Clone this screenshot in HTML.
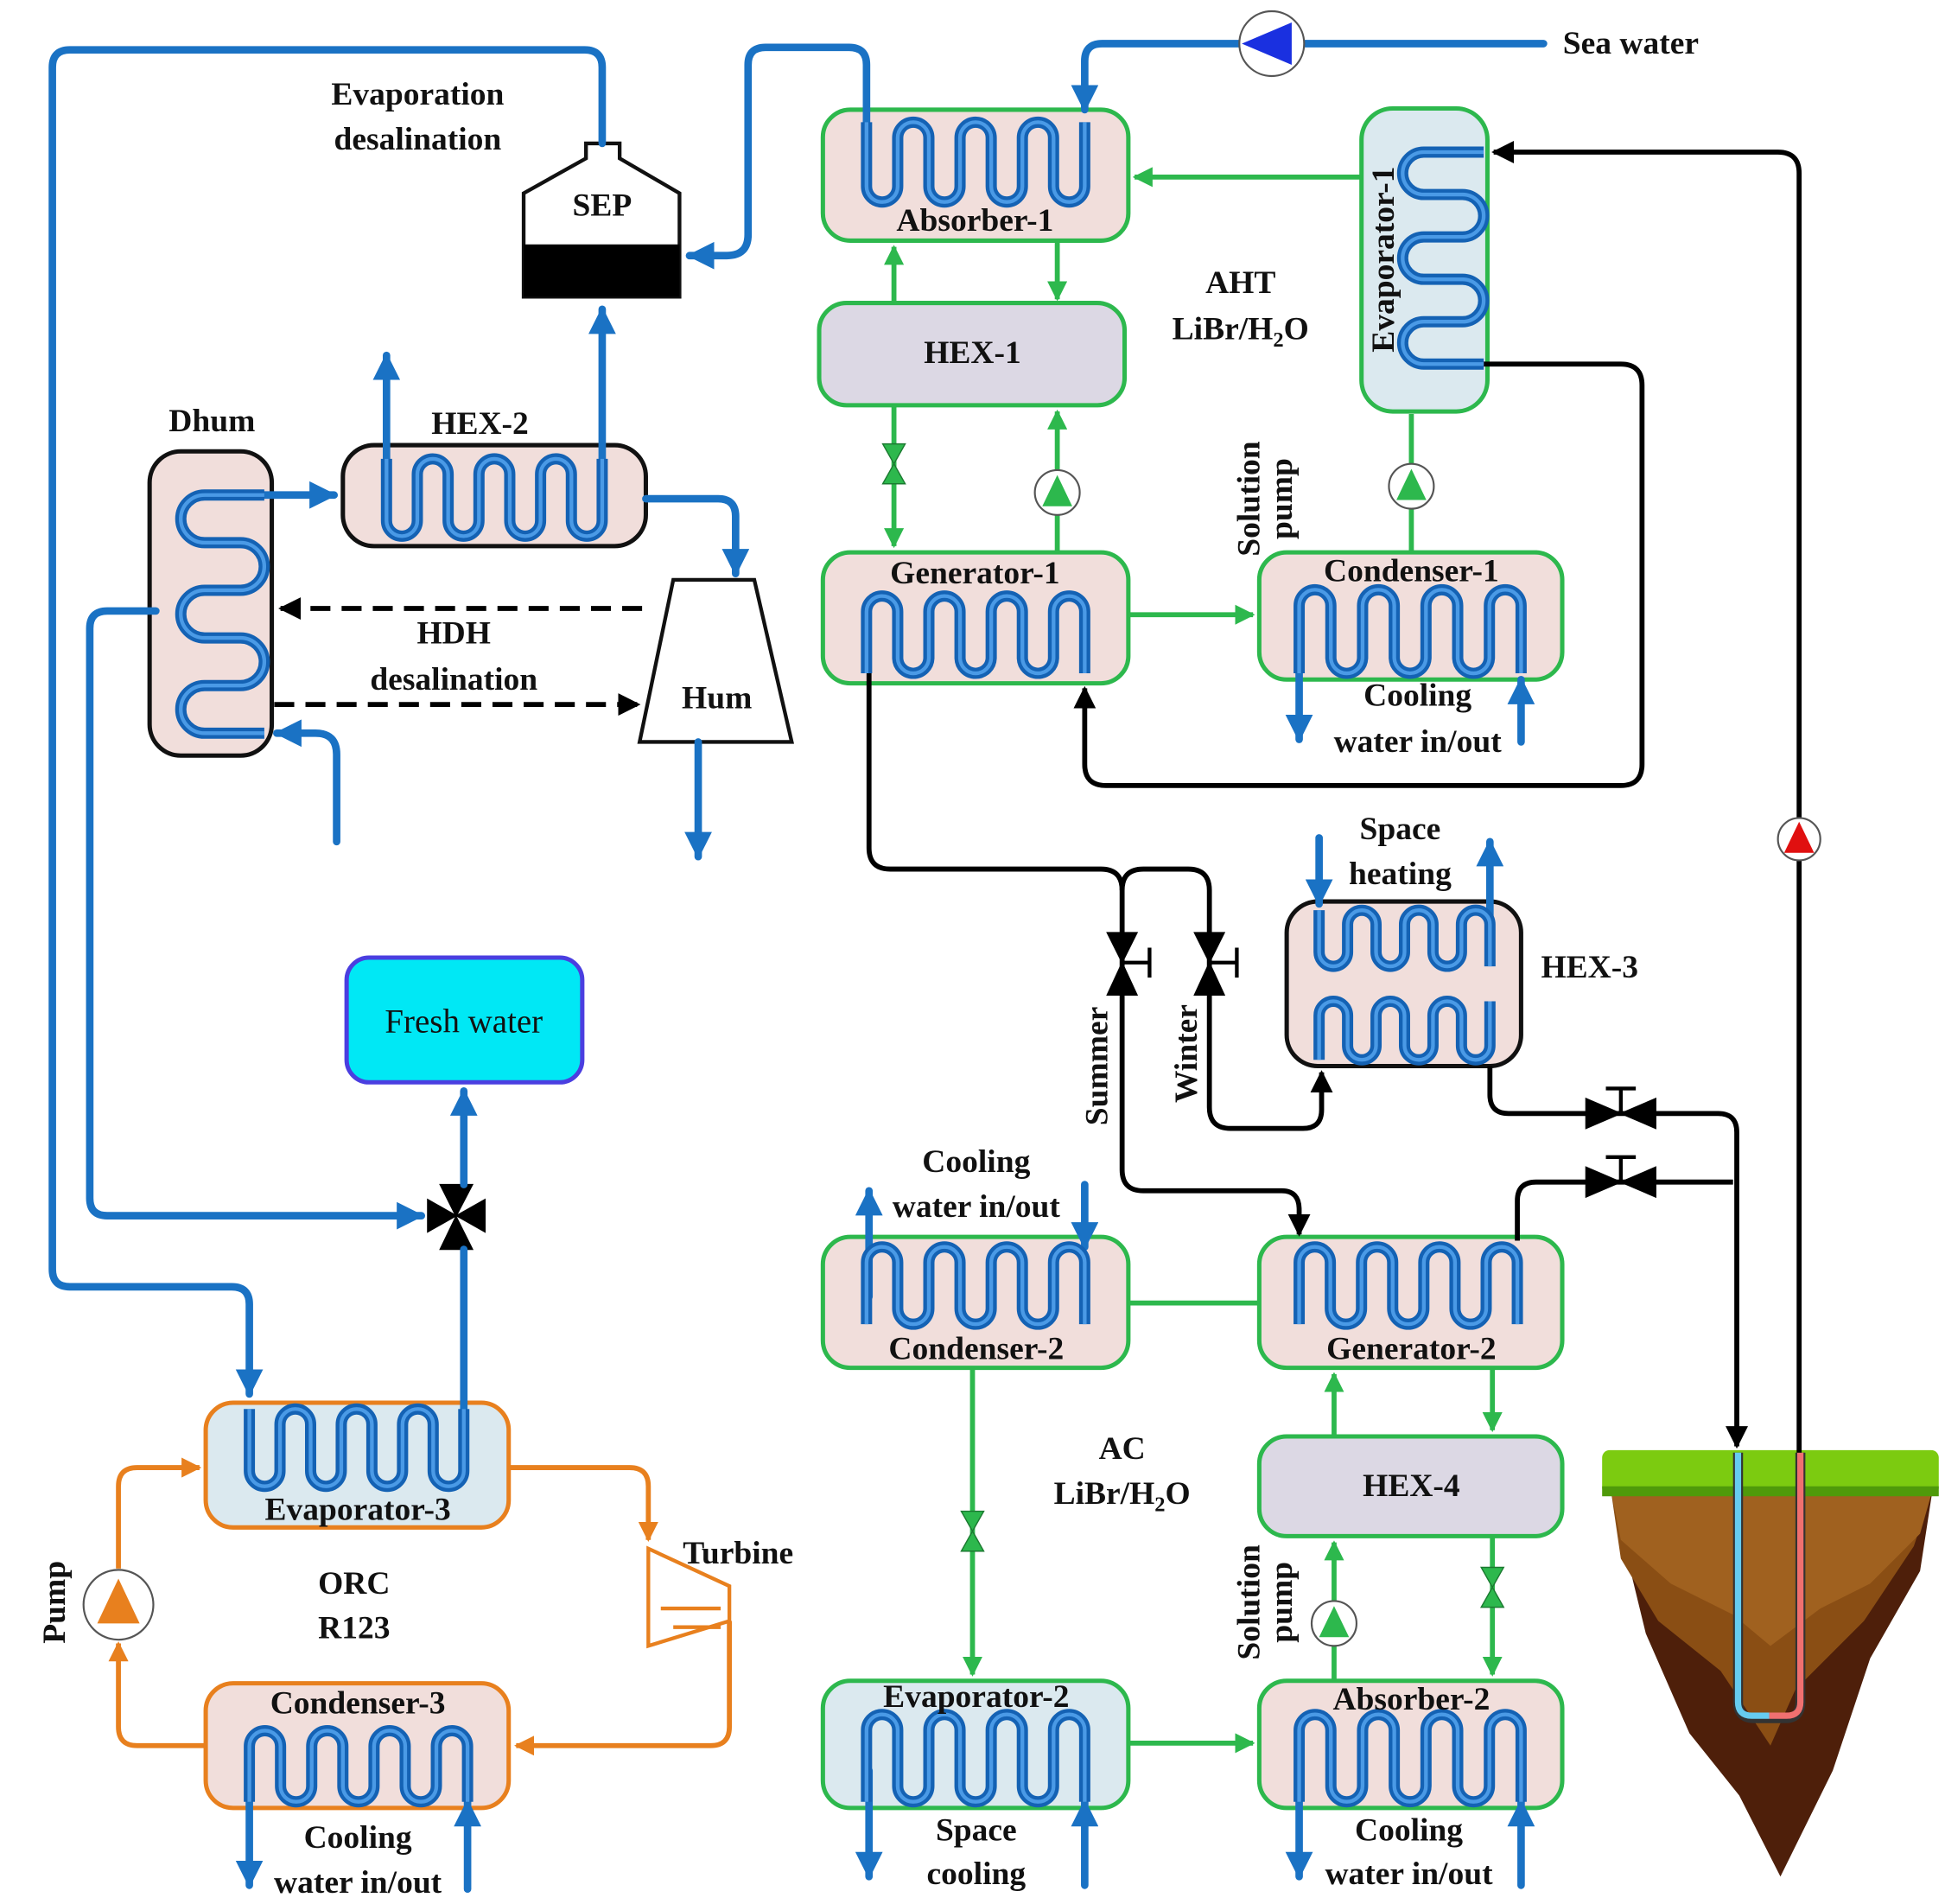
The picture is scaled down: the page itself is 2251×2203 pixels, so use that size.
<!DOCTYPE html>
<html><head><meta charset="utf-8">
<style>
html,body{margin:0;padding:0;background:#fff;}
svg{display:block;}
text{font-family:"Liberation Serif",serif;font-weight:bold;font-size:26px;fill:#111;text-anchor:middle;}
</style></head>
<body>
<svg id="s" width="2251" height="2203" viewBox="0 0 1560 1527" preserveAspectRatio="none" xmlns="http://www.w3.org/2000/svg">
<defs>
<marker id="ab" viewBox="0 0 10 10" refX="9" refY="5" markerWidth="22" markerHeight="22" markerUnits="userSpaceOnUse" orient="auto"><path d="M0,0L10,5L0,10z" fill="#1a72c4"/></marker>
<marker id="ag" viewBox="0 0 10 10" refX="9" refY="5" markerWidth="16" markerHeight="16" markerUnits="userSpaceOnUse" orient="auto"><path d="M0,0L10,5L0,10z" fill="#2db84d"/></marker>
<marker id="ak" viewBox="0 0 10 10" refX="9" refY="5" markerWidth="18" markerHeight="18" markerUnits="userSpaceOnUse" orient="auto"><path d="M0,0L10,5L0,10z" fill="#000"/></marker>
<marker id="ao" viewBox="0 0 10 10" refX="9" refY="5" markerWidth="16" markerHeight="16" markerUnits="userSpaceOnUse" orient="auto"><path d="M0,0L10,5L0,10z" fill="#e8801e"/></marker>
</defs>

<!-- ground -->
<g>
<polygon points="1292,1195 1550,1195 1540,1260 1500,1330 1470,1420 1428,1505 1395,1440 1355,1390 1320,1310" fill="#4e1f0a"/>
<polygon points="1292,1195 1550,1195 1535,1240 1495,1300 1440,1355 1420,1400 1380,1340 1330,1300 1300,1250" fill="#8a4e14"/>
<polygon points="1292,1195 1550,1195 1540,1230 1500,1270 1460,1290 1420,1320 1390,1295 1340,1270 1300,1235" fill="#a0611f"/>
<rect x="1285" y="1163" width="270" height="36" rx="6" fill="#7ccb10"/>
<rect x="1285" y="1192" width="270" height="8" fill="#4f9a0a"/>
<path d="M1394,1165 V1365 Q1394,1378 1407,1378 H1432 Q1444,1378 1444,1365 V1165" fill="none" stroke="#333" stroke-width="8"/>
<path d="M1394,1165 V1365 Q1394,1376 1405,1376 H1419" fill="none" stroke="#66ccf0" stroke-width="5"/>
<path d="M1419,1376 H1433 Q1444,1376 1444,1365 V1165" fill="none" stroke="#f07070" stroke-width="5"/>
</g>

<!-- equipment boxes -->
<g stroke-width="3.5">
<rect x="660" y="88" width="245" height="105" rx="22" fill="#f1dedb" stroke="#2db84d"/>
<rect x="657" y="243" width="245" height="82" rx="22" fill="#dcd8e4" stroke="#2db84d"/>
<rect x="660" y="443" width="245" height="105" rx="22" fill="#f1dedb" stroke="#2db84d"/>
<rect x="1010" y="443" width="243" height="102" rx="22" fill="#f1dedb" stroke="#2db84d"/>
<rect x="1092" y="87" width="101" height="243" rx="25" fill="#dbe9ef" stroke="#2db84d"/>
<rect x="660" y="992" width="245" height="105" rx="22" fill="#f1dedb" stroke="#2db84d"/>
<rect x="1010" y="992" width="243" height="105" rx="22" fill="#f1dedb" stroke="#2db84d"/>
<rect x="1010" y="1152" width="243" height="80" rx="22" fill="#dcd8e4" stroke="#2db84d"/>
<rect x="660" y="1348" width="245" height="102" rx="22" fill="#dbe9ef" stroke="#2db84d"/>
<rect x="1010" y="1348" width="243" height="102" rx="22" fill="#f1dedb" stroke="#2db84d"/>
<rect x="1032" y="723" width="188" height="132" rx="25" fill="#f1dedb" stroke="#111"/>
<rect x="120" y="362" width="98" height="244" rx="25" fill="#f1dedb" stroke="#111"/>
<rect x="275" y="357" width="243" height="81" rx="25" fill="#f1dedb" stroke="#111"/>
<rect x="165" y="1125" width="243" height="100" rx="22" fill="#dbe9ef" stroke="#e8801e"/>
<rect x="165" y="1350" width="243" height="100" rx="22" fill="#f1dedb" stroke="#e8801e"/>
<rect x="278" y="768" width="189" height="100" rx="18" fill="#00e8f5" stroke="#4a3ee0"/>
<polygon points="470,115 497,115 497,127 545,155 545,238 420,238 420,155 470,127" fill="#fff" stroke="#111" stroke-width="3"/>
<rect x="420" y="196" width="125" height="42" fill="#000"/>
<polygon points="540,465 605,465 635,595 513,595" fill="#fff" stroke="#111" stroke-width="3"/>
<polygon points="520,1242 585,1272 585,1300 520,1320" fill="#fff" stroke="#e8801e" stroke-width="3"/>
<path d="M530,1290 H578 M540,1305 H578" stroke="#e8801e" stroke-width="3"/>
</g>

<!-- green lines -->
<g fill="none" stroke="#2db84d" stroke-width="4">
<path d="M717,243 V198" marker-end="url(#ag)"/>
<path d="M848,193 V240" marker-end="url(#ag)"/>
<path d="M717,325 V438" marker-end="url(#ag)"/>
<path d="M848,443 V330" marker-end="url(#ag)"/>
<path d="M905,493 H1005" marker-end="url(#ag)"/>
<path d="M1132,443 V332"/>
<path d="M1092,142 H910" marker-end="url(#ag)"/>
<path d="M905,1045 H1010"/>
<path d="M780,1097 V1343" marker-end="url(#ag)"/>
<path d="M905,1398 H1005" marker-end="url(#ag)"/>
<path d="M1070,1152 V1102" marker-end="url(#ag)"/>
<path d="M1197,1097 V1147" marker-end="url(#ag)"/>
<path d="M1070,1348 V1237" marker-end="url(#ag)"/>
<path d="M1197,1232 V1343" marker-end="url(#ag)"/>
</g>
<!-- green valves & pumps -->
<g fill="#2db84d" stroke="#1b7a30" stroke-width="1">
<polygon points="708,356 726,356 717,372 708,388 726,388 717,372"/>
<polygon points="771,1212 789,1212 780,1228 771,1244 789,1244 780,1228"/>
<polygon points="1188,1257 1206,1257 1197,1273 1188,1289 1206,1289 1197,1273"/>
</g>
<g>
<circle cx="848" cy="395" r="18" fill="#fff" stroke="#555" stroke-width="1.5"/><polygon points="848,381 836,406 860,406" fill="#2db84d"/>
<circle cx="1132" cy="390" r="18" fill="#fff" stroke="#555" stroke-width="1.5"/><polygon points="1132,376 1120,401 1144,401" fill="#2db84d"/>
<circle cx="1070" cy="1302" r="18" fill="#fff" stroke="#555" stroke-width="1.5"/><polygon points="1070,1288 1058,1313 1082,1313" fill="#2db84d"/>
</g>

<!-- black lines -->
<g fill="none" stroke="#000" stroke-width="4">
<path d="M697,540 V680 Q697,697 714,697 H883 Q900,697 900,714 V938 Q900,955 917,955 H1028 Q1042,955 1042,970 V990" marker-end="url(#ak)"/>
<path d="M900,714 Q900,697 917,697 H953 Q970,697 970,714 V888 Q970,905 987,905 H1045 Q1060,905 1060,890 V860" marker-end="url(#ak)"/>
<path d="M1190,292 H1300 Q1317,292 1317,309 V613 Q1317,630 1300,630 H887 Q870,630 870,613 V552" marker-end="url(#ak)"/>
<path d="M1443,1165 V139 Q1443,122 1426,122 H1198" marker-end="url(#ak)"/>
<path d="M1195,855 V878 Q1195,893 1210,893 H1378 Q1393,893 1393,908 V1160" marker-end="url(#ak)"/>
<path d="M1217,995 V963 Q1217,948 1232,948 H1390"/>
<path d="M515,488 H225" stroke-dasharray="16,9" marker-end="url(#ak)"/>
<path d="M220,565 H512" stroke-dasharray="16,9" marker-end="url(#ak)"/>
</g>
<g fill="#000" stroke="#000" stroke-width="3">
<polygon points="888,748 912,748 900,772 888,798 912,798 900,772" stroke-width="1"/><path d="M900,772 H922 M922,760 V784" fill="none"/>
<polygon points="958,748 982,748 970,772 958,798 982,798 970,772" stroke-width="1"/><path d="M970,772 H992 M992,760 V784" fill="none"/>
<polygon points="1272,881 1272,905 1300,893 1328,881 1328,905 1300,893" stroke-width="1"/><path d="M1300,893 V873 M1288,873 H1312" fill="none"/>
<polygon points="1272,936 1272,960 1300,948 1328,936 1328,960 1300,948" stroke-width="1"/><path d="M1300,948 V928 M1288,928 H1312" fill="none"/>
<polygon points="343,962 343,988 366,975 389,962 389,988 366,975" stroke-width="1"/>
<polygon points="353,950 379,950 366,975 353,1002 379,1002" stroke-width="1"/>
</g>
<circle cx="1443" cy="673" r="17" fill="#fff" stroke="#555" stroke-width="1.5"/><polygon points="1443,659 1431,684 1455,684" fill="#e01010"/>

<!-- orange lines -->
<g fill="none" stroke="#e8801e" stroke-width="4">
<path d="M408,1177 H505 Q520,1177 520,1192 V1235" marker-end="url(#ao)"/>
<path d="M585,1300 V1385 Q585,1400 570,1400 H414" marker-end="url(#ao)"/>
<path d="M165,1400 H110 Q95,1400 95,1385 V1318" marker-end="url(#ao)"/>
<path d="M95,1258 V1192 Q95,1177 110,1177 H160" marker-end="url(#ao)"/>
</g>
<circle cx="95" cy="1287" r="28" fill="#fff" stroke="#555" stroke-width="1.5"/><polygon points="95,1266 78,1302 112,1302" fill="#e8801e"/>

<!-- blue pipes -->
<g fill="none" stroke="#1a72c4" stroke-width="6" stroke-linecap="round">
<path d="M483,115 V54 Q483,40 469,40 H56 Q42,40 42,54 V1018 Q42,1032 56,1032 H186 Q200,1032 200,1046 V1118" marker-end="url(#ab)"/>
<path d="M695,100 V52 Q695,38 681,38 H614 Q600,38 600,52 V188 Q600,205 583,205 H553" marker-end="url(#ab)"/>
<path d="M1238,35 H884 Q870,35 870,49 V88" marker-end="url(#ab)"/>
<path d="M310,380 V285" marker-end="url(#ab)"/>
<path d="M483,380 V248" marker-end="url(#ab)"/>
<path d="M212,397 H268" marker-end="url(#ab)"/>
<path d="M518,400 H576 Q590,400 590,414 V460" marker-end="url(#ab)"/>
<path d="M270,675 V605 Q270,588 253,588 H222" marker-end="url(#ab)"/>
<path d="M125,490 H86 Q72,490 72,504 V961 Q72,975 86,975 H338" marker-end="url(#ab)"/>
<path d="M372,1150 V1002"/>
<path d="M372,950 V875" marker-end="url(#ab)"/>
<path d="M560,595 V687" marker-end="url(#ab)"/>
<path d="M1058,672 V725" marker-end="url(#ab)"/>
<path d="M1195,740 V675" marker-end="url(#ab)"/>
<path d="M1042,520 V593" marker-end="url(#ab)"/>
<path d="M1220,595 V545" marker-end="url(#ab)"/>
<path d="M697,1040 V955" marker-end="url(#ab)"/>
<path d="M870,950 V1000" marker-end="url(#ab)"/>
<path d="M697,1420 V1505" marker-end="url(#ab)"/>
<path d="M870,1512 V1445" marker-end="url(#ab)"/>
<path d="M1042,1420 V1505" marker-end="url(#ab)"/>
<path d="M1220,1512 V1445" marker-end="url(#ab)"/>
<path d="M200,1420 V1512" marker-end="url(#ab)"/>
<path d="M375,1515 V1445" marker-end="url(#ab)"/>
</g>
<circle cx="1020" cy="35" r="26" fill="#fff" stroke="#555" stroke-width="1.5"/><polygon points="996,35 1036,18 1036,52" fill="#1a30e0"/>

<g id="coils"></g>

<!-- text -->
<text x="782" y="185">Absorber-1</text>
<text x="780" y="291">HEX-1</text>
<text x="782" y="468">Generator-1</text>
<text x="1132" y="466">Condenser-1</text>
<text x="1137" y="566">Cooling</text>
<text x="1137" y="603">water in/out</text>
<text x="995" y="235">AHT</text>
<text x="995" y="272">LiBr/H<tspan font-size="17" dy="6">2</tspan><tspan dy="-6">O</tspan></text>
<text transform="translate(1010,400) rotate(-90)">Solution</text>
<text transform="translate(1036,400) rotate(-90)">pump</text>
<text transform="translate(1118,208) rotate(-90)">Evaporator-1</text>
<text x="1308" y="43">Sea water</text>
<text x="335" y="84">Evaporation</text>
<text x="335" y="120">desalination</text>
<text x="483" y="173">SEP</text>
<text x="170" y="346">Dhum</text>
<text x="385" y="348">HEX-2</text>
<text x="364" y="516">HDH</text>
<text x="364" y="553">desalination</text>
<text x="575" y="568">Hum</text>
<text x="372" y="828" style="font-weight:normal;font-size:27px">Fresh water</text>
<text x="1123" y="673">Space</text>
<text x="1123" y="709">heating</text>
<text x="1275" y="784">HEX-3</text>
<text transform="translate(888,855) rotate(-90)">Summer</text>
<text transform="translate(960,845) rotate(-90)">Winter</text>
<text x="783" y="940">Cooling</text>
<text x="783" y="976">water in/out</text>
<text x="783" y="1090">Condenser-2</text>
<text x="1132" y="1090">Generator-2</text>
<text x="1132" y="1200">HEX-4</text>
<text x="900" y="1170">AC</text>
<text x="900" y="1206">LiBr/H<tspan font-size="17" dy="6">2</tspan><tspan dy="-6">O</tspan></text>
<text transform="translate(1010,1285) rotate(-90)">Solution</text>
<text transform="translate(1036,1285) rotate(-90)">pump</text>
<text x="783" y="1369">Evaporator-2</text>
<text x="783" y="1476">Space</text>
<text x="783" y="1511">cooling</text>
<text x="1132" y="1371">Absorber-2</text>
<text x="1130" y="1476">Cooling</text>
<text x="1130" y="1511">water in/out</text>
<text x="287" y="1219">Evaporator-3</text>
<text x="287" y="1374">Condenser-3</text>
<text x="287" y="1482">Cooling</text>
<text x="287" y="1518">water in/out</text>
<text x="592" y="1254">Turbine</text>
<text x="284" y="1278">ORC</text>
<text x="284" y="1314">R123</text>
<text transform="translate(52,1285) rotate(-90)">Pump</text>
</svg>
<script>
(function(){
var g=document.getElementById('coils');
function vc(x0,x1,yT,yB,n,fromTop){
 var dx=(x1-x0)/(n-1), r=dx/2, d='', y0=fromTop?yT:yB;
 d='M'+x0+','+y0;
 for(var i=0;i<n;i++){
  var x=x0+i*dx; var goingDown=(i%2==0)==fromTop;
  var yEnd=goingDown?yB-r:yT+r;
  if(i==n-1){yEnd=goingDown?yB:yT;}
  d+=' V'+yEnd;
  if(i<n-1){d+=' A'+r+','+r+' 0 0 '+(goingDown?0:1)+' '+(x+dx)+','+yEnd;}
 }
 add(d);
}
function hc(y0,y1,xL,xR,n){
 var dy=(y1-y0)/(n-1), r=dy/2, d='M'+xR+','+y0;
 for(var i=0;i<n;i++){
  var y=y0+i*dy; var left=(i%2==0);
  var xe=left?xL+r:xR-r; if(i==n-1) xe=left?xL:xR;
  d+=' H'+xe;
  if(i<n-1) d+=' A'+r+','+r+' 0 0 '+(left?0:1)+' '+xe+','+(y+dy);
 }
 add(d);
}
function add(d){
 [['#1462b4',9],['#4a9ae6',3]].forEach(function(s){
  var p=document.createElementNS('http://www.w3.org/2000/svg','path');
  p.setAttribute('d',d);p.setAttribute('fill','none');p.setAttribute('stroke',s[0]);p.setAttribute('stroke-width',s[1]);
  g.appendChild(p);});
}
vc(695,870,98,162,8,true);
vc(695,870,478,540,8,false);
vc(1042,1220,473,540,8,false);
vc(695,870,1000,1062,8,false);
vc(1042,1217,1000,1062,8,false);
vc(695,870,1375,1445,8,false);
vc(1042,1220,1375,1445,8,false);
vc(200,372,1130,1192,8,true);
vc(200,375,1388,1445,8,false);
vc(310,483,368,430,8,true);
vc(1058,1195,730,775,7,true);
vc(1058,1195,803,850,7,false);
hc(397,588,145,212,6);
hc(122,292,1125,1190,6);
})();
</script>
</body></html>
